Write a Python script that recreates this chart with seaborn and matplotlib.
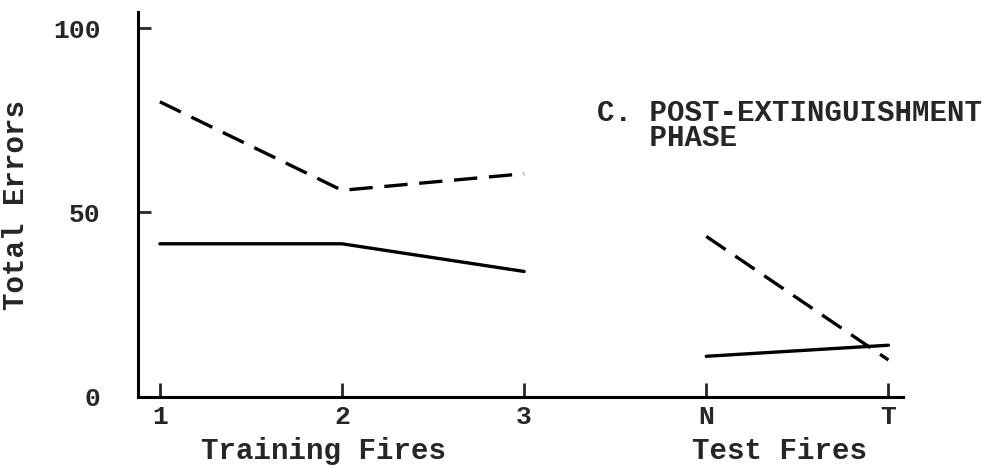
import pandas as pd
import seaborn as sns
import matplotlib.pyplot as plt

# fire positions: training fires 1-3, test fires N and T
tick_pos = [1, 2, 3, 4, 5]
tick_labels = ["1", "2", "3", "N", "T"]

training_x = [1, 2, 3]
test_x = [4, 5]

dashed_training = [80, 56, 60.5]
solid_training = [41.5, 41.5, 34]
dashed_test = [43.5, 10]
solid_test = [11, 14]

rows = []
for seg, style, xs, ys in [("train_dashed", "dashed", training_x, dashed_training),
                           ("train_solid", "solid", training_x, solid_training),
                           ("test_dashed", "dashed", test_x, dashed_test),
                           ("test_solid", "solid", test_x, solid_test)]:
    for x, y in zip(xs, ys):
        rows.append({"fire": x, "errors": y, "group": style, "segment": seg})
df = pd.DataFrame(rows)

sns.set_style("ticks")
plt.rcParams['font.family'] = ['Liberation Mono', 'DejaVu Sans Mono']
plt.rcParams['font.weight'] = 'bold'

fig = plt.figure(figsize=(10, 4.68), dpi=100)
ax = fig.add_axes([0.138, 0.152, 0.765, 0.822])

sns.lineplot(data=df, x="fire", y="errors", style="group", units="segment", estimator=None,
             dashes={"solid": "", "dashed": (7, 3.5)}, color="black", linewidth=2.4,
             legend=False, ax=ax)

ax.set_xlim(0.88, 5.08)
ax.set_ylim(0, 104.3)
ax.set_xticks(tick_pos)
ax.set_xticklabels(tick_labels)
ax.set_yticks([0, 50, 100])
sns.despine(ax=ax)
for s in ["left", "bottom"]:
    ax.spines[s].set_linewidth(2.2)
    ax.spines[s].set_color("black")

ax.tick_params(axis="x", direction="in", length=10, width=2, pad=6, labelsize=19)
ax.tick_params(axis="y", direction="in", length=9, width=2, pad=27, labelsize=19)

ax.set_xlabel("")
ax.set_ylabel("Total Errors", fontsize=21, fontweight="bold")
ax.yaxis.set_label_coords(-0.141, 0.5)

ax.text(1.9, -0.14, "Training Fires", transform=ax.get_xaxis_transform(),
        ha="center", va="center", fontsize=21)
ax.text(4.4, -0.14, "Test Fires", transform=ax.get_xaxis_transform(),
        ha="center", va="center", fontsize=21)

ax.text(3.40, 73.6, "C. POST-EXTINGUISHMENT\n   PHASE", ha="left", va="center",
        fontsize=21, linespacing=0.9)

fig.savefig("out.png", dpi=100)
